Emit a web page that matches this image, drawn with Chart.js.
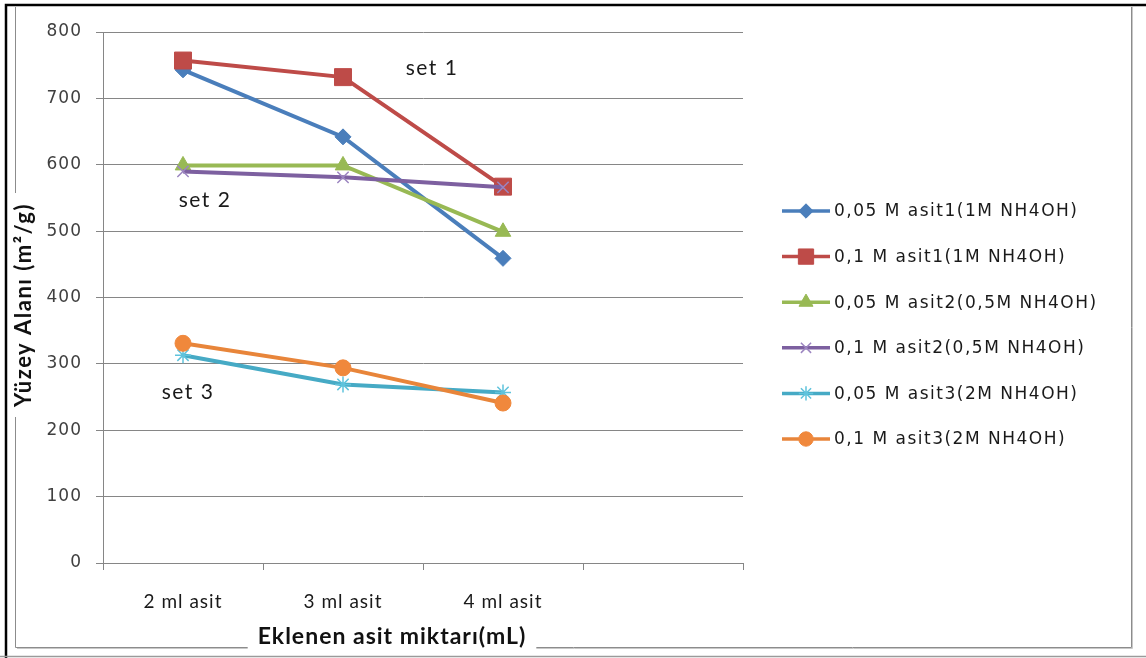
<!DOCTYPE html>
<html>
<head>
<meta charset="utf-8">
<script src="https://cdn.jsdelivr.net/npm/chart.js@4"></script>
<style>
  html, body { margin: 0; padding: 0; background: #ffffff; }
  canvas { display: block; }
</style>
</head>
<body>
<canvas id="c" width="1146" height="658"></canvas>
<script>
// ---- data ----
const categories = ['2 ml asit', '3 ml asit', '4 ml asit', ''];
const seriesNames = [
  '0,05 M asit1(1M NH4OH)',
  '0,1 M asit1(1M NH4OH)',
  '0,05 M asit2(0,5M NH4OH)',
  '0,1 M asit2(0,5M NH4OH)',
  '0,05 M asit3(2M NH4OH)',
  '0,1 M asit3(2M NH4OH)'
];
const s1 = [743, 642, 459];
const s2 = [757, 732, 567];
const s3 = [599, 599, 499];
const s4 = [590, 581, 566];
const s5 = [313, 269, 257];
const s6 = [331, 294, 241];
const yTicks = [0, 100, 200, 300, 400, 500, 600, 700, 800];
const setLabels = ['set 1', 'set 2', 'set 3'];
const xTitle = 'Eklenen asit miktarı(mL)';
const yTitle = 'Yüzey Alanı (m²/g)';

// ---- styles ----
const markerColors = ['#4A7EBB', '#BE4B48', '#98B954', '#9C85C0', '#5FC3DC', '#F0883C'];
const lineColors = ['#4A7EBB', '#BE4B48', '#98B954', '#7D60A0', '#46AAC5', '#E8853A'];
const pointStyles = ['rectRot', 'rect', 'triangle', 'crossRot', 'star', 'circle'];
const pointRadii = [8, 12, 9, 8, 8, 8];
const pointBorderWidths = [1, 1, 1, 1.5, 1.5, 1];
const allSeries = [s1, s2, s3, s4, s5, s6];

const datasets = allSeries.map((d, i) => ({
  label: seriesNames[i],
  data: d,
  borderColor: lineColors[i],
  borderWidth: 4,
  backgroundColor: markerColors[i],
  pointStyle: pointStyles[i],
  pointRadius: pointRadii[i],
  pointBorderWidth: pointBorderWidths[i],
  pointBackgroundColor: markerColors[i],
  pointBorderColor: markerColors[i],
  tension: 0,
  fill: false,
  order: 10 - i
}));

const W = 1146, H = 658;

const decor = {
  id: 'decor',
  beforeLayout(chart) {
    chart.ctx.letterSpacing = '1px';
  },
  beforeDraw(chart) {
    const ctx = chart.ctx;
    ctx.save();
    ctx.fillStyle = '#ffffff';
    ctx.fillRect(0, 0, W, H);
    ctx.restore();
    ctx.letterSpacing = '1px';
  },
  afterDraw(chart) {
    const ctx = chart.ctx;
    const xs = chart.scales.x, ys = chart.scales.y;
    ctx.save();
    // outer black border
    ctx.strokeStyle = '#000000';
    ctx.lineWidth = 2.5;
    ctx.beginPath();
    ctx.moveTo(6, H);
    ctx.lineTo(6, 5);
    ctx.lineTo(W, 5);
    ctx.stroke();
    // bottom gray line
    ctx.strokeStyle = '#9a9a9a';
    ctx.lineWidth = 1.5;
    ctx.beginPath();
    ctx.moveTo(0, 656.5);
    ctx.lineTo(W, 656.5);
    ctx.stroke();
    // inner gray frame with shadow
    ctx.strokeStyle = '#c8c8c8';
    ctx.lineWidth = 1;
    ctx.beginPath();
    ctx.moveTo(1132.5, 7);
    ctx.lineTo(1132.5, 648.5);
    ctx.lineTo(17, 648.5);
    ctx.stroke();
    ctx.strokeStyle = '#8c8c8c';
    ctx.beginPath();
    ctx.moveTo(15.5, 7);
    ctx.lineTo(15.5, 647.5);
    ctx.lineTo(1131.5, 647.5);
    ctx.lineTo(1131.5, 7);
    ctx.stroke();

    // set annotations
    ctx.fillStyle = '#1a1a1a';
    ctx.font = '21px Lato';
    ctx.letterSpacing = '1.5px';
    ctx.textAlign = 'center';
    ctx.textBaseline = 'middle';
    const setPos = [
      [xs.getPixelForValue(1) + 89, ys.getPixelForValue(745)],
      [xs.getPixelForValue(0) + 22, ys.getPixelForValue(547)],
      [xs.getPixelForValue(0) + 5, ys.getPixelForValue(258)]
    ];
    setLabels.forEach((t, i) => ctx.fillText(t, setPos[i][0], setPos[i][1]));

    // x title with white box
    ctx.font = 'bold 23px Lato';
    ctx.letterSpacing = '1px';
    const xtw = ctx.measureText(xTitle).width;
    const xtx = 392, xty = 637;
    ctx.fillStyle = '#ffffff';
    ctx.fillRect(xtx - xtw / 2 - 10, xty - 15, xtw + 20, 28);
    ctx.fillStyle = '#111111';
    ctx.fillText(xTitle, xtx, xty);

    // y title rotated with white box
    ctx.save();
    ctx.translate(24, 305);
    ctx.rotate(-Math.PI / 2);
    ctx.font = 'bold 22px Lato';
    ctx.letterSpacing = '1.5px';
    const ytw = ctx.measureText(yTitle).width;
    ctx.fillStyle = '#ffffff';
    ctx.fillRect(-ytw / 2 - 10, -14, ytw + 20, 26);
    ctx.fillStyle = '#111111';
    ctx.fillText(yTitle, 0, 0);
    ctx.restore();

    // legend
    ctx.font = '17px "DejaVu Sans"';
    ctx.letterSpacing = '1.5px';
    ctx.textAlign = 'left';
    ctx.textBaseline = 'middle';
    for (let i = 0; i < seriesNames.length; i++) {
      const y = 211 + i * 45.6;
      ctx.strokeStyle = lineColors[i];
      ctx.lineWidth = 3.5;
      ctx.beginPath();
      ctx.moveTo(782, y);
      ctx.lineTo(830, y);
      ctx.stroke();
      ctx.fillStyle = markerColors[i];
      ctx.strokeStyle = markerColors[i];
      ctx.lineWidth = pointBorderWidths[i];
      Chart.helpers.drawPoint(ctx, {
        pointStyle: pointStyles[i],
        radius: pointRadii[i] * 0.9,
        borderWidth: pointBorderWidths[i],
        rotation: 0
      }, 806, y);
      ctx.fillStyle = '#1a1a1a';
      ctx.fillText(seriesNames[i], 834, y + 1);
    }
    ctx.restore();
  }
};

new Chart(document.getElementById('c'), {
  type: 'line',
  data: { labels: categories, datasets },
  plugins: [decor],
  options: {
    responsive: false,
    animation: false,
    devicePixelRatio: 1,
    layout: { padding: { top: 32, right: W - 743, bottom: 0, left: 0 } },
    plugins: { legend: { display: false }, tooltip: { enabled: false } },
    scales: {
      x: {
        offset: true,
        grid: { offset: true, drawOnChartArea: false, color: '#868686', tickLength: 7 },
        border: { color: '#868686' },
        ticks: { font: { family: 'Lato', size: 19 }, color: '#1a1a1a', padding: 20, maxRotation: 0, autoSkip: false },
        afterFit: s => { s.height = H - 563; }
      },
      y: {
        min: 0, max: 800,
        afterBuildTicks: s => { s.ticks = yTicks.map(v => ({ value: v })); },
        ticks: { font: { family: 'DejaVu Sans', size: 17 }, color: '#404040', padding: 14 },
        grid: { color: '#868686', tickLength: 7 },
        border: { color: '#868686' },
        afterFit: s => { s.width = 103; }
      }
    }
  }
});
</script>
</body>
</html>
